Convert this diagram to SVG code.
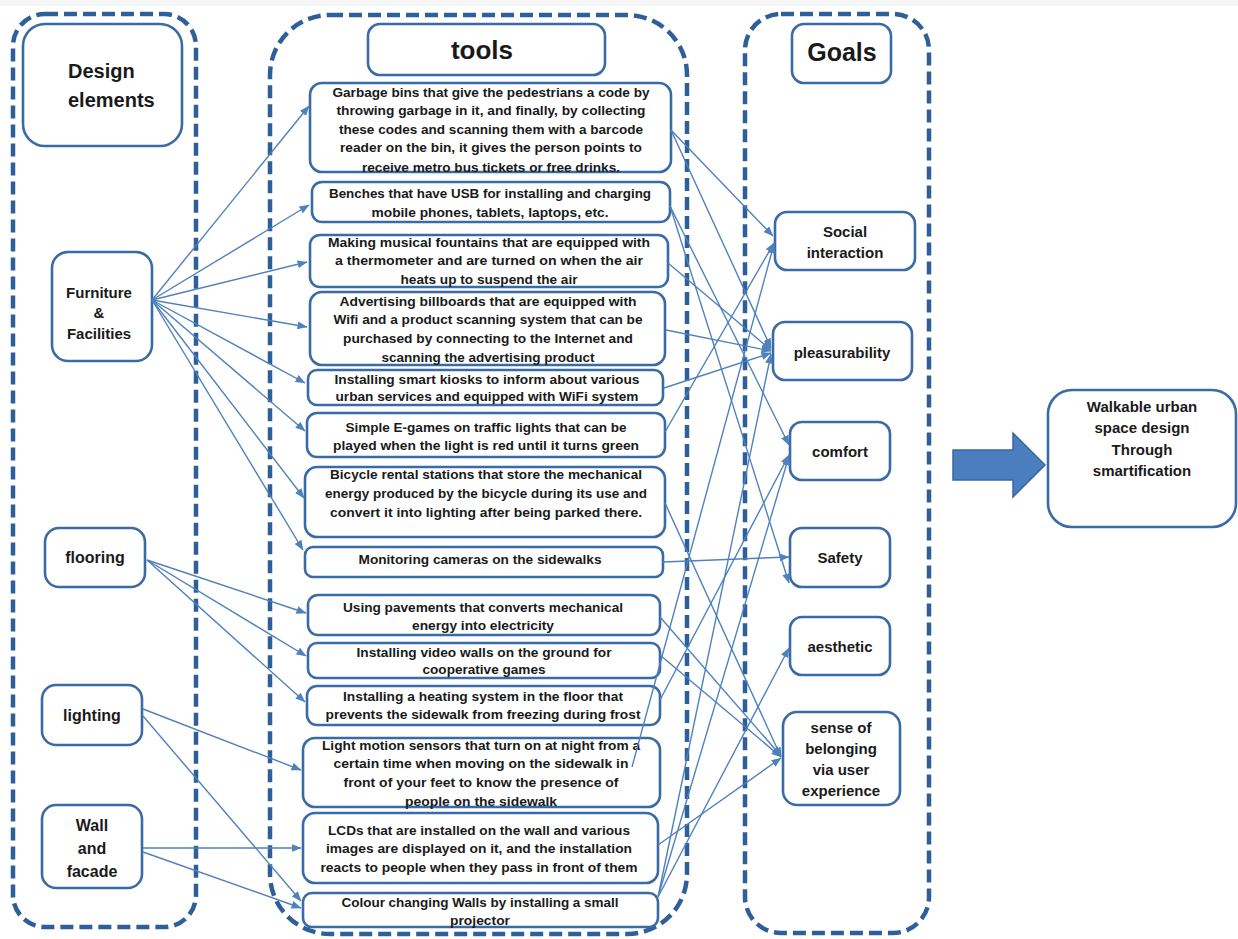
<svg xmlns="http://www.w3.org/2000/svg" width="1238" height="939" viewBox="0 0 1238 939">
<defs>
<style>
.bg{fill:#ffffff}
.cont{fill:none;stroke:#2f5f98;stroke-width:4.5;stroke-dasharray:13 6}
.node{fill:#ffffff;stroke:#3b6ba6;stroke-width:2.6}
.t{font-family:"Liberation Sans",Arial,sans-serif;font-weight:bold;fill:#1a1a1a;text-anchor:middle}
.tool{font-size:12.5px}
.goal{font-size:15px}
.de{font-size:16px}
.hd{font-size:20px}
.conn line{stroke:#4f81bd;stroke-width:1.4;marker-end:url(#ah)}
.big{fill:#4a7ebf;stroke:#3a679f;stroke-width:1.5}
</style>
<marker id="ah" markerWidth="10" markerHeight="8" refX="9.5" refY="4" orient="auto" markerUnits="userSpaceOnUse">
<path d="M0,0 L10,4 L0,8 z" fill="#4f81bd"/>
</marker>
</defs>
<rect class="bg" x="0" y="0" width="1238" height="939"/>
<rect x="0" y="0" width="1238" height="6" fill="#f5f5f5"/>

<g id="containers">
<rect class="cont" x="13" y="14" width="183" height="913" rx="32"/>
<rect class="cont" x="270" y="15" width="417" height="919" rx="60"/>
<rect class="cont" x="745" y="14" width="184" height="919" rx="36"/>
</g>

<g id="header-design">
<rect class="node" x="23" y="24" width="159" height="122" rx="22"/>
<text class="t hd" x="68" y="78" style="text-anchor:start">Design</text>
<text class="t hd" x="68" y="107" style="text-anchor:start">elements</text>
</g>
<g id="header-tools">
<rect class="node" x="368" y="24" width="237" height="51" rx="12"/>
<text class="t" x="482" y="59" style="font-size:26px">tools</text>
</g>
<g id="header-goals">
<rect class="node" x="792" y="24" width="99" height="59" rx="12"/>
<text class="t" x="842" y="61" style="font-size:25px">Goals</text>
</g>

<g id="de-furniture">
<rect class="node" x="52" y="252" width="100" height="109" rx="16"/>
<text class="t" x="99" y="298" style="font-size:15px">Furniture</text>
<text class="t" x="99" y="318" style="font-size:15px">&amp;</text>
<text class="t" x="99" y="339" style="font-size:15px">Facilities</text>
</g>
<g id="de-flooring">
<rect class="node" x="45" y="528" width="100" height="59" rx="14"/>
<text class="t de" x="95" y="563">flooring</text>
</g>
<g id="de-lighting">
<rect class="node" x="42" y="685" width="100" height="60" rx="14"/>
<text class="t de" x="92" y="721">lighting</text>
</g>
<g id="de-wall">
<rect class="node" x="42" y="805" width="100" height="83" rx="14"/>
<text class="t de" x="92" y="831">Wall</text>
<text class="t de" x="92" y="854">and</text>
<text class="t de" x="92" y="877">facade</text>
</g>

<g id="tool-garbage">
<rect class="node" x="310" y="83" width="361" height="89" rx="12"/>
<text class="t tool" x="491" y="97" textLength="317" lengthAdjust="spacingAndGlyphs">Garbage bins that give the pedestrians a code by</text>
<text class="t tool" x="491" y="115" textLength="309" lengthAdjust="spacingAndGlyphs">throwing garbage in it, and finally, by collecting</text>
<text class="t tool" x="491" y="134" textLength="304" lengthAdjust="spacingAndGlyphs">these codes and scanning them with a barcode</text>
<text class="t tool" x="491" y="152" textLength="302" lengthAdjust="spacingAndGlyphs">reader on the bin, it gives the person points to</text>
<text class="t tool" x="491" y="172" textLength="258" lengthAdjust="spacingAndGlyphs">receive metro bus tickets or free drinks.</text>
</g>
<g id="tool-benches">
<rect class="node" x="312" y="182" width="358" height="40" rx="10"/>
<text class="t tool" x="490" y="198" textLength="322" lengthAdjust="spacingAndGlyphs">Benches that have USB for installing and charging</text>
<text class="t tool" x="490" y="217" textLength="237" lengthAdjust="spacingAndGlyphs">mobile phones, tablets, laptops, etc.</text>
</g>
<g id="tool-fountains">
<rect class="node" x="310" y="235" width="358" height="52" rx="10"/>
<text class="t tool" x="489" y="247" textLength="322" lengthAdjust="spacingAndGlyphs">Making musical fountains that are equipped with</text>
<text class="t tool" x="489" y="265" textLength="308" lengthAdjust="spacingAndGlyphs">a thermometer and are turned on when the air</text>
<text class="t tool" x="489" y="284" textLength="177" lengthAdjust="spacingAndGlyphs">heats up to suspend the air</text>
</g>
<g id="tool-billboards">
<rect class="node" x="310" y="292" width="355" height="73" rx="12"/>
<text class="t tool" x="488" y="306" textLength="297" lengthAdjust="spacingAndGlyphs">Advertising billboards that are equipped with</text>
<text class="t tool" x="488" y="324" textLength="309" lengthAdjust="spacingAndGlyphs">Wifi and a product scanning system that can be</text>
<text class="t tool" x="488" y="343" textLength="290" lengthAdjust="spacingAndGlyphs">purchased by connecting to the Internet and</text>
<text class="t tool" x="488" y="362" textLength="213" lengthAdjust="spacingAndGlyphs">scanning the advertising product</text>
</g>
<g id="tool-kiosks">
<rect class="node" x="308" y="370" width="355" height="35" rx="9"/>
<text class="t tool" x="487" y="384" textLength="305" lengthAdjust="spacingAndGlyphs">Installing smart kiosks to inform about various</text>
<text class="t tool" x="487" y="401" textLength="303" lengthAdjust="spacingAndGlyphs">urban services and equipped with WiFi system</text>
</g>
<g id="tool-egames">
<rect class="node" x="307" y="413" width="358" height="44" rx="10"/>
<text class="t tool" x="486" y="432" textLength="281" lengthAdjust="spacingAndGlyphs">Simple E-games on traffic lights that can be</text>
<text class="t tool" x="486" y="450" textLength="306" lengthAdjust="spacingAndGlyphs">played when the light is red until it turns green</text>
</g>
<g id="tool-bicycle">
<rect class="node" x="305" y="467" width="360" height="70" rx="12"/>
<text class="t tool" x="486" y="479" textLength="312" lengthAdjust="spacingAndGlyphs">Bicycle rental stations that store the mechanical</text>
<text class="t tool" x="486" y="498" textLength="322" lengthAdjust="spacingAndGlyphs">energy produced by the bicycle during its use and</text>
<text class="t tool" x="486" y="517" textLength="312" lengthAdjust="spacingAndGlyphs">convert it into lighting after being parked there.</text>
</g>
<g id="tool-cameras">
<rect class="node" x="305" y="547" width="358" height="30" rx="8"/>
<text class="t tool" x="480" y="564" textLength="243" lengthAdjust="spacingAndGlyphs">Monitoring cameras on the sidewalks</text>
</g>
<g id="tool-pavements">
<rect class="node" x="308" y="595" width="352" height="40" rx="10"/>
<text class="t tool" x="483" y="612" textLength="280" lengthAdjust="spacingAndGlyphs">Using pavements that converts mechanical</text>
<text class="t tool" x="483" y="630" textLength="142" lengthAdjust="spacingAndGlyphs">energy into electricity</text>
</g>
<g id="tool-videowalls">
<rect class="node" x="308" y="643" width="352" height="35" rx="9"/>
<text class="t tool" x="484" y="657" textLength="255" lengthAdjust="spacingAndGlyphs">Installing video walls on the ground for</text>
<text class="t tool" x="484" y="674" textLength="123" lengthAdjust="spacingAndGlyphs">cooperative games</text>
</g>
<g id="tool-heating">
<rect class="node" x="307" y="686" width="353" height="39" rx="10"/>
<text class="t tool" x="483" y="701" textLength="280" lengthAdjust="spacingAndGlyphs">Installing a heating system in the floor that</text>
<text class="t tool" x="483" y="719" textLength="315" lengthAdjust="spacingAndGlyphs">prevents the sidewalk from freezing during frost</text>
</g>
<g id="tool-lightsensors">
<rect class="node" x="303" y="738" width="357" height="69" rx="12"/>
<text class="t tool" x="481" y="750" textLength="318" lengthAdjust="spacingAndGlyphs">Light motion sensors that turn on at night from a</text>
<text class="t tool" x="481" y="768" textLength="295" lengthAdjust="spacingAndGlyphs">certain time when moving on the sidewalk in</text>
<text class="t tool" x="481" y="787" textLength="275" lengthAdjust="spacingAndGlyphs">front of your feet to know the presence of</text>
<text class="t tool" x="481" y="806" textLength="152" lengthAdjust="spacingAndGlyphs">people on the sidewalk</text>
</g>
<g id="tool-lcds">
<rect class="node" x="303" y="813" width="355" height="70" rx="12"/>
<text class="t tool" x="479" y="835" textLength="302" lengthAdjust="spacingAndGlyphs">LCDs that are installed on the wall and various</text>
<text class="t tool" x="479" y="853" textLength="306" lengthAdjust="spacingAndGlyphs">images are displayed on it, and the installation</text>
<text class="t tool" x="479" y="872" textLength="317" lengthAdjust="spacingAndGlyphs">reacts to people when they pass in front of them</text>
</g>
<g id="tool-colourwalls">
<rect class="node" x="303" y="893" width="355" height="34" rx="9"/>
<text class="t tool" x="480" y="907" textLength="277" lengthAdjust="spacingAndGlyphs">Colour changing Walls by installing a small</text>
<text class="t tool" x="480" y="925" textLength="60" lengthAdjust="spacingAndGlyphs">projector</text>
</g>

<g id="goal-social">
<rect class="node" x="775" y="212" width="140" height="58" rx="12"/>
<text class="t goal" x="845" y="237">Social</text>
<text class="t goal" x="845" y="258">interaction</text>
</g>
<g id="goal-pleasurability">
<rect class="node" x="773" y="322" width="139" height="58" rx="12"/>
<text class="t goal" x="842" y="358">pleasurability</text>
</g>
<g id="goal-comfort">
<rect class="node" x="790" y="422" width="100" height="58" rx="12"/>
<text class="t goal" x="840" y="457">comfort</text>
</g>
<g id="goal-safety">
<rect class="node" x="790" y="528" width="100" height="59" rx="12"/>
<text class="t goal" x="840" y="563">Safety</text>
</g>
<g id="goal-aesthetic">
<rect class="node" x="790" y="617" width="100" height="58" rx="12"/>
<text class="t goal" x="840" y="652">aesthetic</text>
</g>
<g id="goal-belonging">
<rect class="node" x="783" y="712" width="117" height="93" rx="14"/>
<text class="t goal" x="841" y="733">sense of</text>
<text class="t goal" x="841" y="754">belonging</text>
<text class="t goal" x="841" y="775">via user</text>
<text class="t goal" x="841" y="796">experience</text>
</g>

<g id="big-arrow">
<polygon class="big" points="953,450 1013,450 1013,433 1045,465 1013,497 1013,480 953,480"/>
</g>
<g id="result">
<rect class="node" x="1048" y="390" width="188" height="137" rx="24"/>
<text class="t goal" x="1142" y="412">Walkable urban</text>
<text class="t goal" x="1142" y="433">space design</text>
<text class="t goal" x="1142" y="455">Through</text>
<text class="t goal" x="1142" y="476">smartification</text>
</g>

<g id="connectors" class="conn">
<line x1="152" y1="300" x2="309" y2="106"/>
<line x1="152" y1="300" x2="309" y2="205"/>
<line x1="152" y1="300" x2="307" y2="262"/>
<line x1="152" y1="300" x2="307" y2="327"/>
<line x1="152" y1="300" x2="305" y2="383"/>
<line x1="152" y1="300" x2="305" y2="431"/>
<line x1="152" y1="300" x2="304" y2="498"/>
<line x1="152" y1="300" x2="303" y2="550"/>
<line x1="147" y1="560" x2="306" y2="613"/>
<line x1="147" y1="560" x2="306" y2="656"/>
<line x1="147" y1="560" x2="305" y2="702"/>
<line x1="143" y1="709" x2="301" y2="770"/>
<line x1="143" y1="716" x2="301" y2="901"/>
<line x1="143" y1="848" x2="301" y2="848"/>
<line x1="143" y1="852" x2="301" y2="908"/>
<line x1="671" y1="130" x2="773" y2="236"/>
<line x1="671" y1="130" x2="771" y2="348"/>
<line x1="670" y1="206" x2="789" y2="445"/>
<line x1="670" y1="206" x2="789" y2="583"/>
<line x1="668" y1="263" x2="771" y2="350"/>
<line x1="666" y1="330" x2="771" y2="351"/>
<line x1="664" y1="388" x2="771" y2="353"/>
<line x1="665" y1="432" x2="774" y2="243"/>
<line x1="665" y1="503" x2="781" y2="757"/>
<line x1="663" y1="562" x2="789" y2="557"/>
<line x1="660" y1="617" x2="781" y2="756"/>
<line x1="660" y1="655" x2="781" y2="757"/>
<line x1="660" y1="700" x2="789" y2="455"/>
<line x1="632" y1="767" x2="774" y2="244"/>
<line x1="658" y1="845" x2="781" y2="758"/>
<line x1="658" y1="897" x2="789" y2="648"/>
<line x1="658" y1="897" x2="771" y2="354"/>
<line x1="658" y1="897" x2="789" y2="456"/>
</g>
</svg>
